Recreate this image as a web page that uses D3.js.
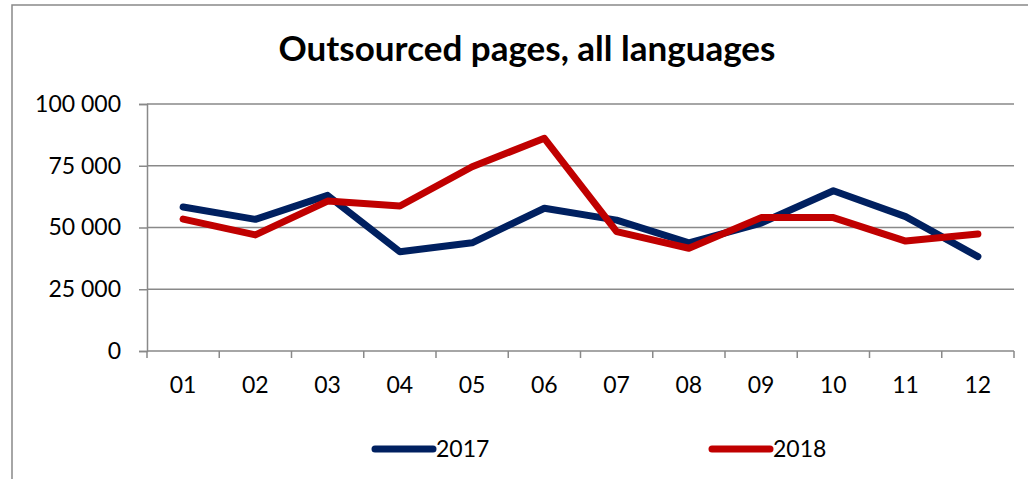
<!DOCTYPE html>
<html>
<head>
<meta charset="utf-8">
<script src="https://cdn.jsdelivr.net/npm/d3@7"></script>
<style>
  html, body { margin: 0; padding: 0; background: #fff; }
  svg { display: block; font-family: Lato, "Open Sans", sans-serif; }
</style>
</head>
<body>
<svg id="chart"></svg>
<script>
// chart data
const months = ["01", "02", "03", "04", "05", "06", "07", "08", "09", "10", "11", "12"];
const pages2017 = [58300, 53300, 63000, 40200, 43800, 57800, 53000, 43800, 51800, 64900, 54400, 38200];
const pages2018 = [53400, 47000, 60700, 58700, 74600, 86100, 48300, 41600, 54000, 54000, 44500, 47400];
const yTicks = [0, 25000, 50000, 75000, 100000];
const title = "Outsourced pages, all languages";

const series = [
    { name: "2017", values: pages2017, color: "#002060" },
    { name: "2018", values: pages2018, color: "#C00000" }
];

const width = 1028, height = 479;
const margin = { top: 104, right: 14, bottom: 128, left: 147 };
const innerW = width - margin.left - margin.right;
const innerH = height - margin.top - margin.bottom;

const svg = d3.select("#chart").attr("width", width).attr("height", height);

// outer chart border (cropped at right and bottom)
svg.append("rect")
    .attr("x", 12).attr("y", 5)
    .attr("width", width + 20).attr("height", height + 20)
    .attr("fill", "#fff").attr("stroke", "#898989").attr("stroke-width", 1.5);

svg.append("text")
    .attr("x", 527).attr("y", 61)
    .attr("text-anchor", "middle")
    .attr("font-size", 35).attr("font-weight", "bold")
    .text(title);

const x = d3.scaleBand().domain(months).range([0, innerW]);
const y = d3.scaleLinear().domain([0, 100000]).range([innerH, 0]);

const g = svg.append("g").attr("transform", `translate(${margin.left},${margin.top})`);

// gridlines
g.append("g")
    .selectAll("line")
    .data(yTicks.filter(d => d > 0))
    .join("line")
    .attr("x1", 0).attr("x2", innerW)
    .attr("y1", d => y(d)).attr("y2", d => y(d))
    .attr("stroke", "#898989").attr("stroke-width", 1.5);

const fmt = d => d3.format(",")(d).replace(/,/g, " ");

const yAxis = g.append("g")
    .call(d3.axisLeft(y).tickValues(yTicks).tickFormat(fmt).tickSize(8).tickPadding(18));
yAxis.select(".domain").attr("stroke", "#898989").attr("stroke-width", 1.5);
yAxis.selectAll(".tick line").attr("stroke", "#898989").attr("stroke-width", 1.5);
yAxis.selectAll("text").attr("font-size", 23).attr("font-family", "Lato").attr("fill", "#000");

// x axis: ticks at band boundaries, labels centred
const xAxis = g.append("g").attr("transform", `translate(0,${innerH})`);
xAxis.append("line")
    .attr("x1", 0).attr("x2", innerW)
    .attr("stroke", "#898989").attr("stroke-width", 1.5);
xAxis.selectAll("line.tk")
    .data(months.concat(["end"]))
    .join("line").attr("class", "tk")
    .attr("x1", (d, i) => i * x.step()).attr("x2", (d, i) => i * x.step())
    .attr("y1", 0).attr("y2", 7)
    .attr("stroke", "#898989").attr("stroke-width", 1.5);
xAxis.selectAll("text")
    .data(months)
    .join("text")
    .attr("x", d => x(d) + x.bandwidth() / 2)
    .attr("y", 42)
    .attr("text-anchor", "middle")
    .attr("font-size", 23)
    .text(d => d);

const line = d3.line()
    .x((d, i) => x(months[i]) + x.bandwidth() / 2)
    .y(d => y(d));

g.selectAll("path.series")
    .data(series)
    .join("path").attr("class", "series")
    .attr("fill", "none")
    .attr("stroke", d => d.color)
    .attr("stroke-width", 7)
    .attr("stroke-linejoin", "round")
    .attr("stroke-linecap", "round")
    .attr("d", d => line(d.values));

// legend
const legendX = [375, 712];
const legend = svg.append("g")
    .selectAll("g")
    .data(series)
    .join("g")
    .attr("transform", (d, i) => `translate(${legendX[i]},449)`);
legend.append("line")
    .attr("x1", 0).attr("x2", 58)
    .attr("stroke", d => d.color).attr("stroke-width", 7)
    .attr("stroke-linecap", "round");
legend.append("text")
    .attr("x", 61).attr("y", 8)
    .attr("font-size", 23)
    .text(d => d.name);
</script>
</body>
</html>
